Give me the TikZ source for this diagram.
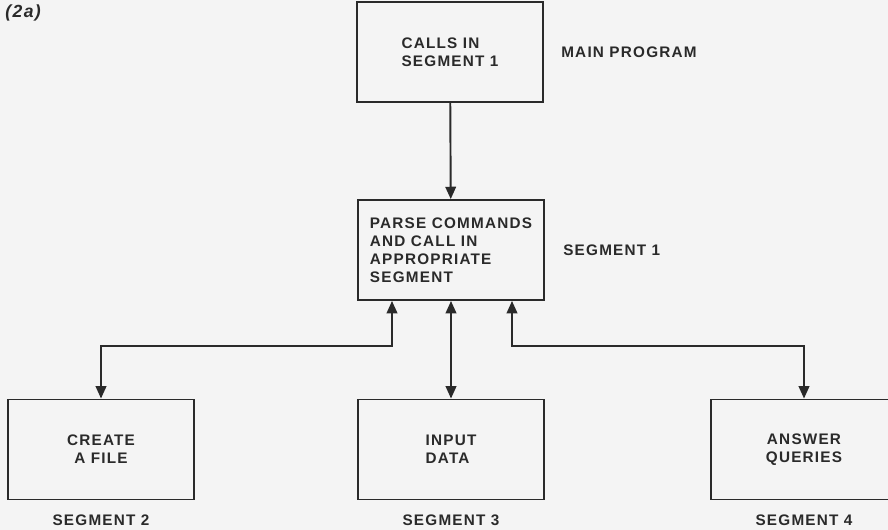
\documentclass[tikz,border=0pt]{standalone}
\usepackage{fontspec}
\setsansfont{Liberation Sans}[LetterSpace=8.0]
\usepackage{tikz}
\usetikzlibrary{arrows.meta, positioning}
\definecolor{inkgray}{RGB}{42, 42, 42}
\definecolor{paper}{RGB}{244, 244, 244}
\newcommand{\diafont}{\sffamily\bfseries\fontsize{8.7}{10.2}\selectfont}

\begin{document}
\begin{tikzpicture}[
        x=0.02cm, y=-0.02cm,
        box/.style={rectangle, draw=inkgray, line width=1.1pt, minimum width=3.72cm, minimum height=2.0cm, text=inkgray, font=\diafont},
        tag/.style={inner sep=0pt, text=inkgray, font=\diafont},
        arrow/.style={-{Triangle[length=7pt, width=6pt]}, line width=1.1pt, color=inkgray},
        dual/.style={{Triangle[length=7pt, width=6pt]}-{Triangle[length=7pt, width=6pt]}, line width=1.1pt, color=inkgray}
    ]
        \fill[paper] (0,0) rectangle (888,530);
        \useasboundingbox (0,0) rectangle (888,530);
        \clip (0,0) rectangle (888,530);

        \node[tag, anchor=west, font=\sffamily\bfseries\itshape\fontsize{10}{12}\selectfont] (fig) at (5,13) {(2a)};

        % Top Row
        \node[box, align=left] (calls) at (450,52) {CALLS IN\\SEGMENT 1};
        \node[tag, right=0.34cm of calls] {MAIN PROGRAM};

        % Middle Row
        \node[box, align=left] (parse) at (451,250) {PARSE COMMANDS\\AND CALL IN\\APPROPRIATE\\SEGMENT};
        \node[tag, right=0.36cm of parse] {SEGMENT 1};

        % Bottom Row
        \node[box, align=center] (create) at (101,449.5) {CREATE\\A FILE};
        \node[box, align=left] (input) at (451,449.5) {INPUT\\DATA};
        \node[box, align=center] (answer) at (804,449.5) {ANSWER\\QUERIES};
        \node[tag, below=0.29cm of create] {SEGMENT 2};
        \node[tag, below=0.29cm of input] {SEGMENT 3};
        \node[tag, below=0.29cm of answer] {SEGMENT 4};

        % Connections
        \coordinate (jl) at (392,346);
        \coordinate (jr) at (512,346);
        \draw[arrow] (calls) -- (parse);
        \draw[dual] (create.north) |- (jl) -- (jl |- parse.south);
        \draw[dual] (input) -- (parse);
        \draw[dual] (answer.north) |- (jr) -- (jr |- parse.south);
    \end{tikzpicture}
\end{document}
